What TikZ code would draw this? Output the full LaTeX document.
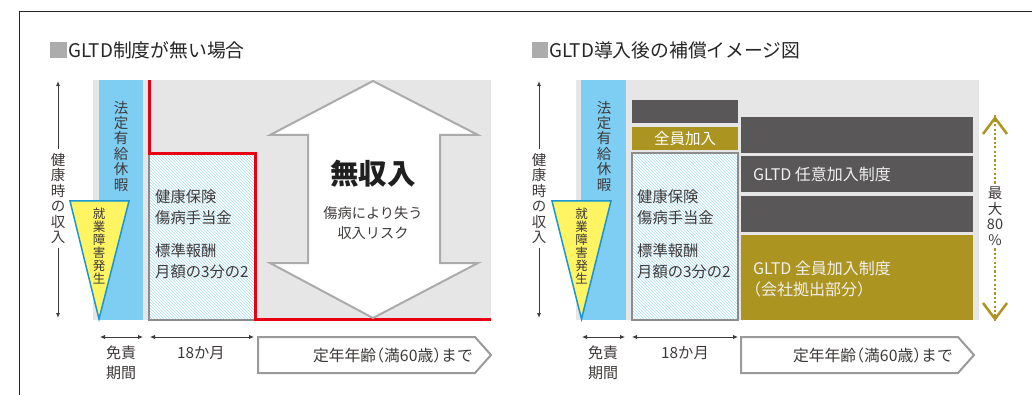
\documentclass[tikz,border=0pt]{standalone}
\usepackage{fontspec}
\setmainfont{Noto Sans CJK JP}
\newfontfamily\jp{Noto Sans CJK JP}
\usetikzlibrary{patterns,arrows.meta}
\definecolor{bgg}{HTML}{E6E6E6}
\definecolor{skyb}{HTML}{7ECEF4}
\definecolor{yel}{HTML}{FFF462}
\definecolor{triblue}{HTML}{1A96D4}
\definecolor{redl}{HTML}{E60012}
\definecolor{dgray}{HTML}{595757}
\definecolor{olivec}{HTML}{AC9420}
\definecolor{hatchb}{HTML}{A8DCF5}
\definecolor{txt}{HTML}{3E3A39}
\definecolor{boxline}{HTML}{8C8C8C}
\definecolor{arrline}{HTML}{ABABAB}
\tikzset{
  every node/.style={inner sep=0pt, text=txt},
  fs/.style={font=\jp\fontsize{#1}{#1}\selectfont},
  vtext/.style={align=center, font=\jp\fontsize{14.5}{15.4}\selectfont},
  tritext/.style={align=center, font=\jp\fontsize{12.5}{13}\selectfont},
  bodytxt/.style={anchor=west, font=\jp\fontsize{15.3}{15.3}\selectfont},
  boxtxt/.style={anchor=west, text=white!94!black, font=\jp\fontsize{16}{16}\selectfont},
  axisarr/.style={-{Latex[length=5pt,width=4pt]}, line width=1pt, draw=txt},
  spanarr/.style={{Latex[length=5pt,width=4.5pt]}-{Latex[length=5pt,width=4.5pt]}, line width=0.9pt, draw=txt},
  tri/.style={fill=yel, draw=triblue, line width=1.5pt, line join=miter},
  hatchbox/.style={fill=white, postaction={pattern=north west lines, pattern color=hatchb}},
  pent/.style={fill=white, draw=arrline!90!black, line width=2pt, line join=miter},
  chev/.style={draw=olivec, line width=2.5pt, line join=miter},
  dots/.style={draw=olivec, line width=2.2pt, dash pattern=on 2.2pt off 2.2pt},
}
\begin{document}
\begin{tikzpicture}[x=1pt,y=-1pt]
\useasboundingbox (0,0) rectangle (1032,395);
\fill[white] (0,0) rectangle (1032,395);
% frame
\draw[line width=1pt, draw=black!85] (19,395) -- (19,12) -- (1032,12);

%================ LEFT PANEL ================
\fill[gray!65] (50,42) rectangle (67,58);
\node[anchor=west, fs=18.8, text=black!85] (titleL) at (68,50) {GLTD制度が無い場合};

\fill[bgg] (93,80) rectangle (491,320);
\fill[skyb] (99,80) rectangle (143,320);
\node[vtext] (paidL) at (121,146) {法\\定\\有\\給\\休\\暇};

% hatched box
\path[hatchbox] (149,153) rectangle (254,320);
\draw[boxline, line width=1.3pt] (149,153) -- (149,320) -- (254,320);
\node[bodytxt] (hl1) at (155,197) {健康保険};
\node[bodytxt] (hl2) at (155,218) {傷病手当金};
\node[bodytxt] (hl3) at (155,251) {標準報酬};
\node[bodytxt] (hl4) at (155,272) {月額の3分の2};

% red line
\draw[redl, line width=3pt, line join=miter] (149.5,80) -- (149.5,154) -- (255.5,154) -- (255.5,319.5) -- (491,319.5);

% big double arrow
\draw[fill=white, draw=arrline, line width=2pt, line join=miter]
  (373,81) -- (478,135) -- (440,135) -- (440,263) -- (478,263) -- (373,318)
  -- (270,263) -- (308,263) -- (308,135) -- (270,135) -- cycle;
\node[font=\jp\bfseries\fontsize{28.5}{28.5}\selectfont, text=black!88] (noinc) at (373,174) {無収入};
\node[align=center, font=\jp\fontsize{14.2}{20}\selectfont] (risk) at (373,223) {傷病により失う\\収入リスク};

% triangle
\draw[tri] (70,201) -- (129,201) -- (99,319) -- cycle;
\node[tritext] (onsetL) at (99,246) {就\\業\\障\\害\\発\\生};

% axis
\node[vtext, inner sep=4pt] (axL) at (58,198.5) {健\\康\\時\\の\\収\\入};
\coordinate (axLt) at (58,81);
\coordinate (axLb) at (58,318);
\draw[axisarr] (axL.north) -- (axLt);
\draw[axisarr] (axL.south) -- (axLb);

% bottom spans
\coordinate (s1a) at (100,337); \coordinate (s1b) at (143,337);
\coordinate (s2a) at (150,337); \coordinate (s2b) at (254,337);
\draw[spanarr] (s1a) -- (s1b);
\draw[spanarr] (s2a) -- (s2b);
\node[align=center, font=\jp\fontsize{15}{20}\selectfont] (menL) at (121,363) {免責\\期間};
\node[fs=15.3] (m18L) at (201,353) {18か月};
\draw[pent] (258,337) -- (475,337) -- (491,355) -- (475,373) -- (258,373) -- cycle;
\node[anchor=east, fs=15.8] (ageL) at (473,355) {定年年齢\kern-0.5em（満60歳）\kern-0.5emまで};

%================ RIGHT PANEL ================
\fill[gray!65] (532,42) rectangle (548,58);
\node[anchor=west, fs=18.8, text=black!85] (titleR) at (549,50) {GLTD導入後の補償イメージ図};

\fill[bgg] (576,80) rectangle (979,320);
\fill[skyb] (581,80) rectangle (626,320);
\node[vtext] (paidR) at (604,146) {法\\定\\有\\給\\休\\暇};

\fill[dgray] (632,100) rectangle (738,123);
\fill[olivec] (632,127) rectangle (738,150);
\node[fs=15.5, text=white] (allin) at (685,139) {全員加入};

\path[hatchbox] (632,153) rectangle (738,320);
\draw[boxline, line width=1.3pt] (632,153) rectangle (738,320);
\node[bodytxt] (hr1) at (637,197) {健康保険};
\node[bodytxt] (hr2) at (637,218) {傷病手当金};
\node[bodytxt] (hr3) at (637,251) {標準報酬};
\node[bodytxt] (hr4) at (637,272) {月額の3分の2};

\fill[dgray] (741,117) rectangle (973,153);
\fill[dgray] (741,156) rectangle (973,192);
\fill[dgray] (741,196) rectangle (973,232);
\fill[olivec] (741,235) rectangle (973,320);
\node[boxtxt] (opt) at (753,174) {GLTD 任意加入制度};
\node[boxtxt] (allsys) at (753,268) {GLTD 全員加入制度};
\node[boxtxt] (comp) at (745,289) {（会社拠出部分）};

% triangle
\draw[tri] (552,201) -- (611,201) -- (581.5,319) -- cycle;
\node[tritext] (onsetR) at (581.5,246) {就\\業\\障\\害\\発\\生};

% axis
\node[vtext, inner sep=4pt] (axR) at (539,198.5) {健\\康\\時\\の\\収\\入};
\coordinate (axRt) at (539,81);
\coordinate (axRb) at (539,318);
\draw[axisarr] (axR.north) -- (axRt);
\draw[axisarr] (axR.south) -- (axRb);

% 80% arrow
\node[align=center, font=\jp\fontsize{14.5}{15.5}\selectfont, inner sep=3pt] (max80) at (995,216) {最\\大\\80\\\%};
\coordinate (mt) at (995,118);
\coordinate (mb) at (995,319);
\draw[dots] (max80.north) -- ([yshift=3pt]mt);
\draw[dots] (max80.south) -- ([yshift=-3pt]mb);
\draw[chev] (983,134) -- (mt) -- (1007,134);
\draw[chev] (983,303) -- (mb) -- (1007,303);

% bottom spans
\coordinate (r1a) at (582,337); \coordinate (r1b) at (625,337);
\coordinate (r2a) at (632,337); \coordinate (r2b) at (738,337);
\draw[spanarr] (r1a) -- (r1b);
\draw[spanarr] (r2a) -- (r2b);
\node[align=center, font=\jp\fontsize{15}{20}\selectfont] (menR) at (603,363) {免責\\期間};
\node[fs=15.3] (m18R) at (685,353) {18か月};
\draw[pent] (741,337) -- (958,337) -- (974,355) -- (958,373) -- (741,373) -- cycle;
\node[anchor=east, fs=15.8] (ageR) at (953,355) {定年年齢\kern-0.5em（満60歳）\kern-0.5emまで};
\end{tikzpicture}
\end{document}
